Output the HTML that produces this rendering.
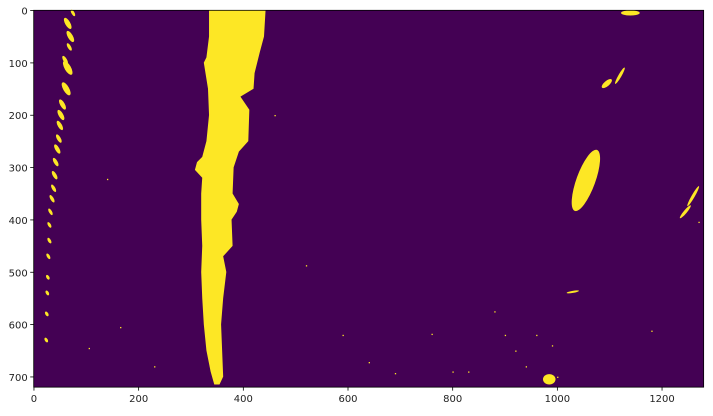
<!DOCTYPE html>
<html><head><meta charset="utf-8"><style>
body{margin:0;background:#fff;width:713px;height:411px;overflow:hidden}
svg text{font-family:"DejaVu Sans","Liberation Sans",sans-serif;font-size:10px;fill:#222}
</style></head><body>
<svg id="chart" width="713" height="411" xmlns="http://www.w3.org/2000/svg"></svg>
<script>
// data (image coordinates, 1280x720)
const xTicks=[0,200,400,600,800,1000,1200];
const yTicks=[0,100,200,300,400,500,600,700];
const laneY=[0,50,90,100,150,200,250,280,290,305,320,350,400,450,500,550,600,650,690,715];
const laneLeft=[335,335,330,325,333,335,330,322,312,308,322,320,320,322,320,322,325,330,338,345];
const laneRightY=[0,50,80,120,150,165,190,250,270,300,350,370,385,400,450,470,500,550,600,650,700,715];
const laneRight=[443,440,432,422,420,395,412,410,392,382,380,392,388,378,380,362,368,362,358,360,362,355];
// left dashed lane marks
const dashX=[75,65,70,68,60,65,62,55,52,50,48,45,42,40,38,35,32,30,30,28,27,26,25,24];
const dashY=[5,25,50,70,95,110,150,180,200,220,245,265,290,315,340,360,385,410,440,470,510,540,580,630];
const dashLen=[14,24,24,16,18,30,28,22,22,20,18,20,18,18,16,16,14,12,12,12,10,10,10,10];
// right-side features
const blobCX=[1055,1140,1095,1120,1245,1260,985,1030];
const blobCY=[325,5,140,125,385,355,705,538];
const blobRX=[18,18,12,3,3,3,12,12];
const blobRY=[62,5,5,18,16,22,10,2];
const blobA=[20,0,-40,30,40,30,0,-10];
const dotX=[140,165,105,230,460,520,590,640,690,760,800,830,880,900,920,940,960,990,1000,1180,1270];
const dotY=[322,605,645,680,200,487,620,672,693,618,690,690,575,620,650,680,620,640,700,612,404];

const NS="http://www.w3.org/2000/svg";
const svg=document.getElementById('chart');
const X0=33.7,Y0=10.3,S=0.5234;
const sx=v=>X0+v*S, sy=v=>Y0+v*S;
function mk(t,a){const e=document.createElementNS(NS,t);for(const k in a)e.setAttribute(k,a[k]);svg.appendChild(e);return e;}
const bg=mk('rect',{x:sx(0),y:sy(0),width:1280*S,height:720*S,fill:'#440154'});


const Y='#fde725';
let pts=[];
for(let i=0;i<laneY.length;i++)pts.push(sx(laneLeft[i])+','+sy(laneY[i]));
for(let i=laneRightY.length-1;i>=0;i--)pts.push(sx(laneRight[i])+','+sy(laneRightY[i]));
const lane=mk('polygon',{points:pts.join(' '),fill:Y});


for(let i=0;i<dashX.length;i++){
 const e=mk('ellipse',{cx:sx(dashX[i]),cy:sy(dashY[i]),rx:dashLen[i]*S/2,ry:Math.max(1.5,dashLen[i]*S/5),fill:Y,transform:`rotate(60 ${sx(dashX[i])} ${sy(dashY[i])})`});
 
 
}
for(let i=0;i<blobCX.length;i++){
 const e=mk('ellipse',{cx:sx(blobCX[i]),cy:sy(blobCY[i]),rx:blobRX[i]*S,ry:blobRY[i]*S,fill:Y,transform:`rotate(${blobA[i]} ${sx(blobCX[i])} ${sy(blobCY[i])})`});
 
 
}
for(let i=0;i<dotX.length;i++){
 const e=mk('rect',{x:sx(dotX[i]),y:sy(dotY[i]),width:1.3,height:1.3,fill:Y});
 
 
}
const fr=mk('rect',{x:sx(0),y:sy(0),width:1280*S,height:720*S,fill:'none',stroke:'#000','stroke-width':0.8});


xTicks.forEach(v=>{
 const l=mk('line',{x1:sx(v+0.5),x2:sx(v+0.5),y1:sy(720),y2:sy(720)+3.5,stroke:'#000','stroke-width':0.8});
 
 
 const t=mk('text',{x:sx(v+0.5),y:sy(720)+15,'text-anchor':'middle'});t.textContent=v;
 
 
});
yTicks.forEach(v=>{
 const l=mk('line',{x1:sx(0)-3.5,x2:sx(0),y1:sy(v+0.5),y2:sy(v+0.5),stroke:'#000','stroke-width':0.8});
 
 
 const t=mk('text',{x:sx(0)-6,y:sy(v+0.5)+4,'text-anchor':'end'});t.textContent=v;
 
 
});
</script>
</body></html>
